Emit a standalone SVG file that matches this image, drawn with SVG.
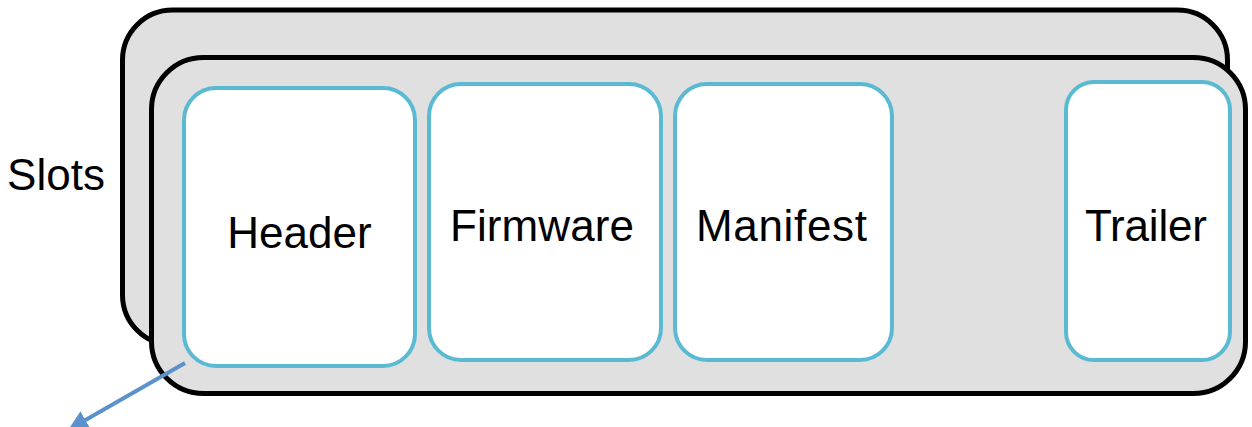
<svg xmlns="http://www.w3.org/2000/svg" width="1252" height="427" viewBox="0 0 1252 427">
<defs>
<style>
.slot{fill:#E0E0E0;stroke:#000;stroke-width:5}
.part{fill:#FFF;stroke:#5BBAD3;stroke-width:4}
.lbl{font-family:"Liberation Sans",Arial,sans-serif;font-size:44px;fill:#000;text-anchor:middle}
.conn{stroke:#5B92CC;stroke-width:4;fill:none}
</style>
<marker id="ah" viewBox="0 0 10 10" refX="2" refY="5" markerWidth="5" markerHeight="5" orient="auto" markerUnits="strokeWidth">
<path d="M0,0 L10,5 L0,10 z" fill="#5B92CC"/>
</marker>
</defs>
<g id="slot-back"><rect class="slot" x="122.5" y="10" width="1105" height="335" rx="50" ry="50"/></g>
<g id="slot-front"><rect class="slot" x="151.5" y="57.5" width="1094" height="336" rx="52" ry="52"/></g>
<g id="slots-label"><text class="lbl" x="56" y="190">Slots</text></g>
<g id="header"><rect class="part" x="184" y="88" width="231" height="278" rx="32" ry="32"/><text class="lbl" x="299.5" y="248">Header</text></g>
<g id="firmware"><rect class="part" x="429" y="84" width="232" height="276" rx="32" ry="32"/><text class="lbl" x="542" y="241" textLength="184">Firmware</text></g>
<g id="manifest"><rect class="part" x="675" y="84" width="217" height="276" rx="32" ry="32"/><text class="lbl" x="781.5" y="241" textLength="171">Manifest</text></g>
<g id="trailer"><rect class="part" x="1066" y="82" width="164" height="278" rx="28" ry="28"/><text class="lbl" x="1146" y="241" textLength="122">Trailer</text></g>
<g id="connectors">
<line class="conn" x1="185" y1="363" x2="82" y2="422" marker-end="url(#ah)"/>
</g>
</svg>
